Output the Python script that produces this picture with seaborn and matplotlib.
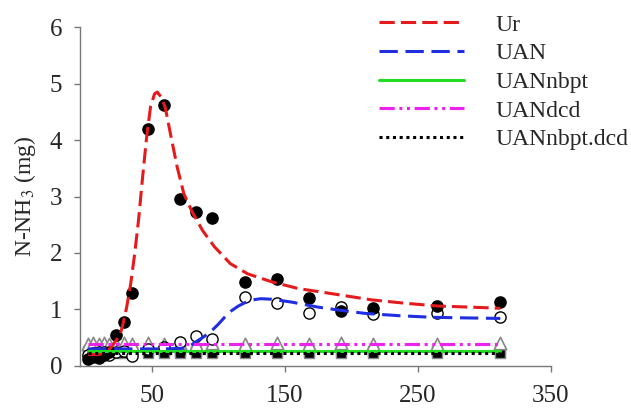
import numpy as np
import pandas as pd
import seaborn as sns
import matplotlib.pyplot as plt
from matplotlib.lines import Line2D

# sampling times and observed N-NH3 values
times = [2, 6, 10, 14, 18, 23, 29, 35, 47, 59, 71, 83, 95, 120, 144, 168, 192, 216, 264, 312]
ur_obs = [0.12, 0.16, 0.14, 0.2, 0.25, 0.55, 0.78, 1.29, 4.2, 4.63, 2.95, 2.72, 2.62,
          1.48, 1.53, 1.21, 0.98, 1.02, 1.06, 1.14]
uan_obs = [0.2, 0.22, 0.25, 0.24, 0.2, 0.25, 0.27, 0.18, 0.3, 0.33, 0.42, 0.53, 0.48,
           1.22, 1.11, 0.93, 1.04, 0.92, 0.94, 0.87]
nbpt_obs = [0.26, 0.27, 0.25, 0.26, 0.27, 0.26, 0.27, 0.26, 0.27, 0.26, 0.27, 0.26, 0.27,
            0.26, 0.27, 0.26, 0.27, 0.26, 0.27, 0.26]
dcd_obs = [0.39, 0.4, 0.39, 0.4, 0.39, 0.39, 0.4, 0.39, 0.4, 0.39, 0.4, 0.39, 0.4,
           0.39, 0.4, 0.39, 0.4, 0.39, 0.39, 0.4]
nbptdcd_obs = [0.22, 0.23, 0.22, 0.23, 0.22, 0.23, 0.22, 0.23, 0.22, 0.23, 0.22, 0.23, 0.22,
               0.23, 0.22, 0.23, 0.22, 0.23, 0.22, 0.23]

# fitted curves
ur_fit_t = [2, 10, 16, 20, 23, 26, 28, 31, 34, 37, 40, 43, 46, 49, 52, 54, 57, 60, 64, 69,
            74, 80, 88, 97, 109, 122, 140, 160, 185, 215, 240, 265, 290, 312]
ur_fit = [0.2, 0.2, 0.25, 0.35, 0.45, 0.55, 0.72, 1.04, 1.45, 1.98, 2.6, 3.35, 4.05, 4.6,
          4.82, 4.85, 4.76, 4.58, 4.1, 3.52, 3.05, 2.74, 2.4, 2.11, 1.81, 1.63, 1.49, 1.37,
          1.28, 1.17, 1.11, 1.06, 1.04, 1.02]
uan_fit_t = [2, 20, 40, 60, 72, 78, 82, 88, 94, 100, 105, 110, 115, 120, 126, 132, 140,
             155, 175, 190, 210, 235, 261, 285, 312]
uan_fit = [0.3, 0.3, 0.3, 0.3, 0.31, 0.34, 0.41, 0.5, 0.6, 0.74, 0.87, 0.98, 1.06, 1.12,
           1.17, 1.19, 1.18, 1.13, 1.04, 0.99, 0.93, 0.89, 0.86, 0.85, 0.84]
flat_t = [2, 312]
nbpt_fit = [0.27, 0.27]
dcd_fit = [0.39, 0.39]
nbptdcd_fit = [0.235, 0.235]

labels = ["Ur", "UAN", "UANnbpt", "UANdcd", "UANnbpt.dcd"]
colors = ["#e41a1c", "#1f2ee0", "#22dd22", "#ee22ee", "black"]

sns.set_style("white")
plt.rcParams['font.family'] = ['Liberation Serif', 'DejaVu Serif']
plt.rcParams['mathtext.fontset'] = 'stix'

fig = plt.figure(figsize=(6.31, 4.12), dpi=100)
ax = fig.add_axes([0.127, 0.112, 0.746, 0.822])

# observed points
sns.scatterplot(x=times, y=nbpt_obs, ax=ax, marker="s", color="#555555", edgecolor="#999999",
                s=55, linewidth=1, zorder=2)
sns.scatterplot(x=times, y=nbptdcd_obs, ax=ax, marker="s", color="black", edgecolor="#888888",
                s=55, linewidth=1, zorder=2)
sns.scatterplot(x=times, y=dcd_obs, ax=ax, marker="^", color="white", edgecolor="#888888",
                s=80, linewidth=1.2, zorder=2)
sns.scatterplot(x=times, y=uan_obs, ax=ax, marker="o", color="white", edgecolor="black",
                s=65, linewidth=1, zorder=3)
sns.scatterplot(x=times, y=ur_obs, ax=ax, marker="o", color="black", edgecolor="black",
                s=65, linewidth=1, zorder=3)

# fitted lines
lw = 2.2
styles = [(0, (5, 2)), (0, (6, 2.5)), "-", (0, (5, 1.5, 1, 1.5, 1, 1.5)), (0, (1, 1.2))]
fits = [(ur_fit_t, ur_fit), (uan_fit_t, uan_fit), (flat_t, nbpt_fit), (flat_t, dcd_fit),
        (flat_t, nbptdcd_fit)]
for (tx, ty), c, ls in zip(fits, colors, styles):
    sns.lineplot(x=tx, y=ty, ax=ax, color=c, linewidth=lw, linestyle=ls, zorder=4)

ax.set_xlim(-4, 350)
ax.set_ylim(0, 6)
ax.set_xticks([50, 150, 250, 350])
ax.set_yticks(range(0, 7))
ax.tick_params(axis="both", labelsize=18, direction="out", length=4, width=1,
               color="#777777", bottom=True, left=True)
ax.tick_params(axis="x", pad=10)
ax.tick_params(axis="y", pad=9)
for side in ["top", "right"]:
    ax.spines[side].set_visible(False)
for side in ["left", "bottom"]:
    ax.spines[side].set_color("#777777")
    ax.spines[side].set_linewidth(1)
ax.set_ylabel("N-NH$_3$ (mg)", fontsize=17, labelpad=8)

handles = [Line2D([], [], color=c, linewidth=lw, linestyle=ls) for c, ls in zip(colors, styles)]
ax.legend(handles, labels, loc="upper right", bbox_to_anchor=(1.018, 1.0),
          bbox_transform=fig.transFigure, frameon=False, fontsize=17,
          handlelength=3.6, handletextpad=1.3, labelspacing=0.3, borderpad=0.1)

fig.savefig("out.png", dpi=100)
